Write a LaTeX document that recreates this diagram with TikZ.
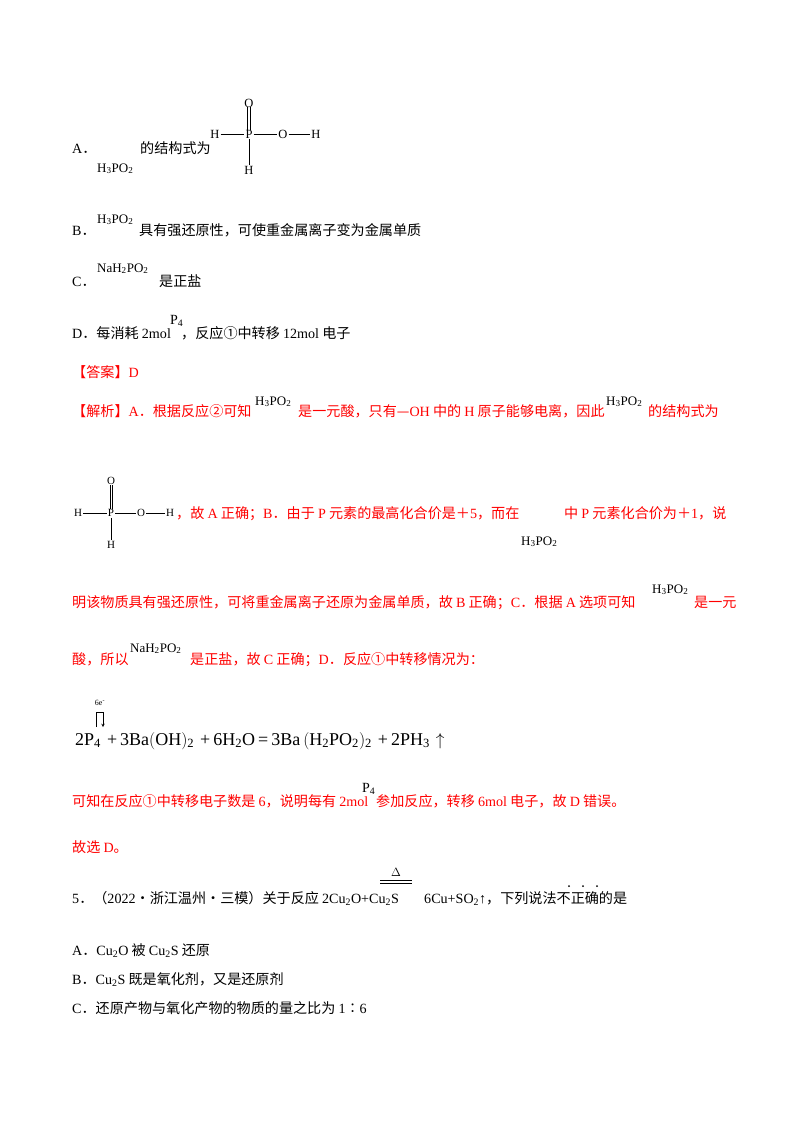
\documentclass[tikz,border=0pt]{standalone}
\usepackage{fontspec}
\setmainfont{Noto Sans CJK SC}
\newfontfamily\lat{Liberation Serif}
\newcommand{\sbx}[1]{\textsubscript{#1}}
\newcommand{\chem}[1]{{\lat #1}}
\definecolor{ansred}{RGB}{255,0,0}
\begin{document}
\begin{tikzpicture}[x=1pt,y=-1pt,
  tx/.style={anchor=base west,inner sep=0pt,font=\fontsize{14.1}{16}\selectfont},
  sm/.style={anchor=base west,inner sep=0pt,font=\lat\fontsize{13}{14}\selectfont},
  atm/.style={inner sep=0pt,font=\lat\fontsize{12.5}{13}\selectfont},
  ats/.style={inner sep=0pt,font=\lat\fontsize{11}{12}\selectfont},
  rt/.style={text=ansred}]
\useasboundingbox[fill=white] (0,0) rectangle (800,1132);
% A
\node[tx] (a1) at (72,153) {\chem{A}．};
\node[sm] (a2) at (97,172) {H\sbx{3}PO\sbx{2}};
\node[tx] (a3) at (140,153) {的结构式为};
\node[atm] (P1) at (249,134) {P};
\node[atm] (O1) at (249,103) {O};
\node[atm] (H1) at (215,134) {H};
\node[atm] (O2) at (283,134) {O};
\node[atm] (H2) at (316,134) {H};
\node[atm] (H3) at (249,170) {H};
\draw ([xshift=-1.5pt]O1.south) -- ([xshift=-1.5pt]P1.north);
\draw ([xshift=1.5pt]O1.south) -- ([xshift=1.5pt]P1.north);
\draw ([xshift=1pt]H1.east) -- ([xshift=-1pt]P1.west);
\draw ([xshift=1pt]P1.east) -- ([xshift=-1pt]O2.west);
\draw ([xshift=1pt]O2.east) -- ([xshift=-1pt]H2.west);
\draw ([yshift=-1pt]P1.south) -- ([yshift=1pt]H3.north);
% B
\node[tx] (b1) at (72,235) {\chem{B}．};
\node[sm] (b2) at (97,223) {H\sbx{3}PO\sbx{2}};
\node[tx] (b3) at (139,235) {具有强还原性，可使重金属离子变为金属单质};
% C
\node[tx] (c1) at (72,286) {\chem{C}．};
\node[sm] (c2) at (97,272) {NaH\sbx{2}PO\sbx{2}};
\node[tx] (c3) at (159,286) {是正盐};
% D
\node[tx] (d1) at (72,338) {\chem{D}．每消耗 \chem{2mol}};
\node[sm,font=\lat\fontsize{14}{15}\selectfont] (d2) at (170,324) {P\sbx{4}};
\node[tx] (d3) at (181,338) {，反应①中转移 \chem{12mol} 电子};
% answer
\node[tx,rt] (e1) at (72,377) {【答案】\chem{D}};
\node[tx,rt] (f1) at (72,416) {【解析】\chem{A}．根据反应②可知};
\node[sm] (f2) at (255,405) {H\sbx{3}PO\sbx{2}};
\node[tx,rt] (f3) at (298,416) {是一元酸，只有—\chem{OH} 中的 \chem{H} 原子能够电离，因此};
\node[sm] (f4) at (606,405) {H\sbx{3}PO\sbx{2}};
\node[tx,rt] (f5) at (648,416) {的结构式为};
% small structure
\node[ats] (P2) at (111,513) {P};
\node[ats] (O3) at (111,481) {O};
\node[ats] (H4) at (78,513) {H};
\node[ats] (O4) at (141,513) {O};
\node[ats] (H5) at (170,513) {H};
\node[ats] (H6) at (111,545) {H};
\draw ([xshift=-1.3pt]O3.south) -- ([xshift=-1.3pt]P2.north);
\draw ([xshift=1.3pt]O3.south) -- ([xshift=1.3pt]P2.north);
\draw ([xshift=1pt]H4.east) -- ([xshift=-1pt]P2.west);
\draw ([xshift=1pt]P2.east) -- ([xshift=-1pt]O4.west);
\draw ([xshift=1pt]O4.east) -- ([xshift=-1pt]H5.west);
\draw ([yshift=-1pt]P2.south) -- ([yshift=1pt]H6.north);
\node[tx,rt] (g1) at (176,518) {，故 \chem{A} 正确；\chem{B}．由于 \chem{P} 元素的最高化合价是＋\chem{5}，而在};
\node[sm] (g2) at (521,545) {H\sbx{3}PO\sbx{2}};
\node[tx,rt] (g3) at (564,518) {中 \chem{P} 元素化合价为＋\chem{1}，说};
\node[tx,rt] (h1) at (72,607) {明该物质具有强还原性，可将重金属离子还原为金属单质，故 \chem{B} 正确；\chem{C}．根据 \chem{A} 选项可知};
\node[sm] (h2) at (652,593) {H\sbx{3}PO\sbx{2}};
\node[tx,rt] (h3) at (694,607) {是一元};
\node[tx,rt] (i1) at (72,664) {酸，所以};
\node[sm] (i2) at (130,652) {NaH\sbx{2}PO\sbx{2}};
\node[tx,rt] (i3) at (190,664) {是正盐，故 \chem{C} 正确；\chem{D}．反应①中转移情况为：};
% equation
\node[anchor=base west,inner sep=0pt,font=\lat\fontsize{18}{20}\selectfont] (eq) at (75,745)
 {2P\sbx{4}\,\,+\,3Ba$\big($OH$\big)$\sbx{2}\,\,+\,6H\sbx{2}O\,=\,3Ba\,$\big($H\sbx{2}PO\sbx{2}$\big)$\sbx{2}\,\,+\,2PH\sbx{3}\,\,$\uparrow$};
\node[inner sep=0pt,font=\lat\fontsize{8}{9}\selectfont] (e6) at (100,703) {6e\textsuperscript{-}};
\coordinate (k1) at (96,727);
\coordinate (k2) at (96,712);
\coordinate (k3) at (103,712);
\coordinate (k4) at (103,727);
\draw[line width=0.5pt] (k1) -- (k2) -- (k3);
\draw[line width=0.5pt,->,>=stealth] (k3) -- (k4);
\node[tx,rt] (j1) at (72,806) {可知在反应①中转移电子数是 \chem{6}，说明每有 \chem{2mol}};
\node[sm,font=\lat\fontsize{14}{15}\selectfont] (j2) at (362,792) {P\sbx{4}};
\node[tx,rt] (j3) at (376,806) {参加反应，转移 \chem{6mol} 电子，故 \chem{D} 错误。};
\node[tx,rt] (k5) at (72,852) {故选 \chem{D}。};
% Q5
\node[tx] (q1) at (72,903) {\chem{5}．（\chem{2022}·浙江温州·三模）关于反应 \chem{2Cu\sbx{2}O+Cu\sbx{2}S}};
\node[inner sep=0pt,font=\lat\fontsize{13}{14}\selectfont] (dl) at (396,872) {$\Delta$};
\draw (380,880) -- (412,880);
\draw (380,883) -- (412,883);
\node[tx] (q2) at (424,903) {\chem{6Cu+SO\sbx{2}↑}，下列说法不正确的是};
\foreach \x in {569,583,597} \fill (\x,886) circle (1);
\node[tx] (r1) at (72,955) {\chem{A}．\chem{Cu\sbx{2}O} 被 \chem{Cu\sbx{2}S} 还原};
\node[tx] (r2) at (72,984) {\chem{B}．\chem{Cu\sbx{2}S} 既是氧化剂，又是还原剂};
\node[tx] (r3) at (72,1013) {\chem{C}．还原产物与氧化产物的物质的量之比为 \chem{1}∶\chem{6}};
\end{tikzpicture}
\end{document}
